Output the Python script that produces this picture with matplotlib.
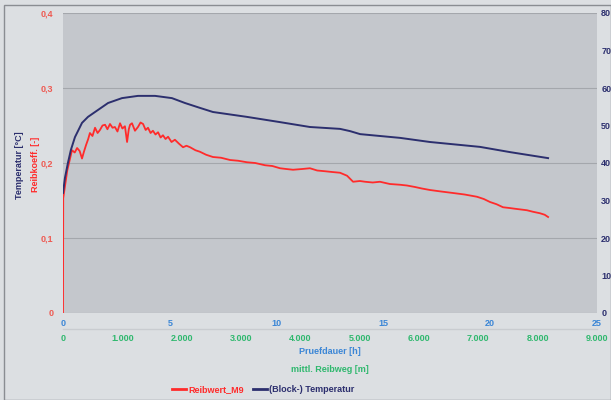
import matplotlib
matplotlib.use('Agg')
import matplotlib.pyplot as plt
from matplotlib.ticker import FuncFormatter, FixedLocator
from matplotlib.lines import Line2D
from matplotlib.patches import Rectangle

plt.rcParams['font.family'] = ['Liberation Sans', 'DejaVu Sans']
plt.rcParams['font.weight'] = 'bold'

# Reibwert (left axis), x in hours
reib_h = [0.0, 0.01, 0.2, 0.42, 0.55, 0.66, 0.78, 0.89, 0.98, 1.08, 1.18, 1.26, 1.38, 1.5,
          1.62, 1.73, 1.85, 1.97, 2.08, 2.2, 2.32, 2.43, 2.55, 2.67, 2.78, 2.9, 3.0, 3.08,
          3.14, 3.23, 3.37, 3.51, 3.63, 3.75, 3.87, 3.98, 4.1, 4.21, 4.33, 4.45, 4.57, 4.68,
          4.8, 4.92, 5.08, 5.24, 5.42, 5.62, 5.78, 5.95, 6.2, 6.41, 6.7, 7.02, 7.4, 7.82,
          8.2, 8.61, 9.0, 9.46, 9.8, 10.16, 10.45, 10.77, 11.2, 11.56, 11.9, 12.27, 12.6,
          12.97, 13.3, 13.58, 13.9, 14.14, 14.5, 14.84, 15.3, 15.78, 16.1, 16.48, 16.8,
          17.18, 17.7, 18.26, 18.8, 19.38, 19.7, 19.99, 20.3, 20.6, 20.9, 21.16, 21.44,
          21.72, 22.0, 22.33, 22.55, 22.71]
reib_val = [0.0, 0.153, 0.19, 0.217, 0.214, 0.22, 0.216, 0.206, 0.215, 0.224, 0.232, 0.24,
            0.236, 0.247, 0.24, 0.244, 0.25, 0.251, 0.245, 0.252, 0.247, 0.248, 0.242, 0.253,
            0.246, 0.249, 0.228, 0.245, 0.251, 0.253, 0.243, 0.248, 0.254, 0.252, 0.244,
            0.247, 0.24, 0.243, 0.238, 0.241, 0.234, 0.237, 0.232, 0.235, 0.228, 0.231,
            0.226, 0.221, 0.223, 0.221, 0.217, 0.215, 0.211, 0.208, 0.207, 0.204, 0.203,
            0.201, 0.2, 0.197, 0.196, 0.193, 0.192, 0.191, 0.192, 0.193, 0.19, 0.189, 0.188,
            0.187, 0.183, 0.175, 0.176, 0.175, 0.174, 0.175, 0.172, 0.171, 0.17, 0.168,
            0.166, 0.164, 0.162, 0.16, 0.158, 0.155, 0.152, 0.148, 0.145, 0.141, 0.14,
            0.139, 0.138, 0.137, 0.135, 0.133, 0.131, 0.128]

# Block temperature (right axis), x in hours
temp_h = [0.0, 0.09, 0.23, 0.37, 0.56, 0.89, 1.17, 1.5, 2.11, 2.76, 3.51, 4.31, 5.1, 5.71,
          6.41, 7.02, 8.61, 10.16, 11.56, 12.97, 13.44, 13.91, 15.78, 17.18, 19.52, 20.93,
          22.71]
temp_val = [32.0, 36.0, 40.0, 43.5, 46.9, 50.7, 52.3, 53.6, 56.0, 57.3, 57.9, 57.9, 57.3,
            56.0, 54.7, 53.6, 52.3, 50.9, 49.6, 49.1, 48.5, 47.7, 46.7, 45.6, 44.3, 42.9,
            41.3]

hour_ticks = [0, 5, 10, 15, 20, 25]
meter_ticks = [0, 1000, 2000, 3000, 4000, 5000, 6000, 7000, 8000, 9000]
reib_ticks = [0, 0.1, 0.2, 0.3, 0.4]
temp_ticks = [0, 10, 20, 30, 40, 50, 60, 70, 80]

red = '#ff2b2b'
navy = '#2c2f6e'
tick_red = '#ee5a52'
blue = '#3b86d6'
green = '#2fb86e'

fig = plt.figure(figsize=(6.11, 4.0), dpi=100, facecolor='#dcdfe2')
fig.patches.append(Rectangle((0.007, 0.0), 0.993, 0.988, transform=fig.transFigure,
                             fill=False, edgecolor='#8a8d92', linewidth=1.0))

ax = fig.add_axes([0.1031, 0.2175, 0.874, 0.75])
ax.set_facecolor('#c4c7cc')
ax.set_xlim(0, 25)
ax.set_ylim(0, 0.4)
ax.yaxis.set_major_locator(FixedLocator(reib_ticks))
ax.xaxis.set_major_locator(FixedLocator(hour_ticks))
ax.yaxis.set_major_formatter(FuncFormatter(lambda v, p: '0' if v == 0 else f'{v:.1f}'.replace('.', ',')))
ax.grid(axis='y', color='#a4a7ac', linewidth=0.8)
ax.set_axisbelow(True)
for s in ax.spines.values():
    s.set_visible(False)
ax.tick_params(axis='y', length=0, pad=7, labelsize=6.5, labelcolor=tick_red)
ax.tick_params(axis='x', length=0, pad=4, labelsize=6.5, labelcolor=blue)

ax.plot(reib_h, reib_val, color=red, linewidth=1.3, zorder=3)

ax2 = ax.twinx()
ax2.set_ylim(0, 80)
ax2.yaxis.set_major_locator(FixedLocator(temp_ticks))
for s in ax2.spines.values():
    s.set_visible(False)
ax2.tick_params(axis='y', length=0, pad=3, labelsize=6.5, labelcolor=navy)
ax2.plot(temp_h, temp_val, color=navy, linewidth=1.4, zorder=3)

sec = ax.secondary_xaxis(-0.053, functions=(lambda h: h * 360.0, lambda m: m / 360.0))
sec.xaxis.set_major_locator(FixedLocator(meter_ticks))
sec.xaxis.set_major_formatter(FuncFormatter(lambda v, p: '0' if v == 0 else f'{int(round(v)):,}'.replace(',', '.')))
sec.tick_params(length=0, pad=4, labelsize=6.5, labelcolor=green)
sec.spines['bottom'].set_color('#c9ccd0')
sec.spines['bottom'].set_linewidth(1.0)

fig.text(0.54, 1 - 352 / 400, 'Pruefdauer [h]', color=blue, fontsize=6.5, ha='center', va='center')
fig.text(0.54, 1 - 369 / 400, 'mittl. Reibweg [m]', color=green, fontsize=6.5, ha='center', va='center')
fig.text(20 / 611, 1 - 165 / 400, 'Temperatur [°C]', color=navy, fontsize=6.5, rotation=90,
         ha='center', va='center')
fig.text(36 / 611, 1 - 164 / 400, 'Reibkoeff. [-]', color=red, fontsize=6.5, rotation=90,
         ha='center', va='center')

handles = [Line2D([], [], color=red, linewidth=2), Line2D([], [], color=navy, linewidth=2)]
leg = fig.legend(handles, ['Reibwert_M9', '(Block-) Temperatur'], loc='center',
                 bbox_to_anchor=(263 / 611, 1 - 390 / 400), ncol=2, frameon=False,
                 fontsize=6.5, handlelength=1.6, handletextpad=0.2, columnspacing=1.0)
leg.get_texts()[0].set_color(red)
leg.get_texts()[1].set_color(navy)

fig.savefig('out.png', dpi=100, facecolor=fig.get_facecolor())
